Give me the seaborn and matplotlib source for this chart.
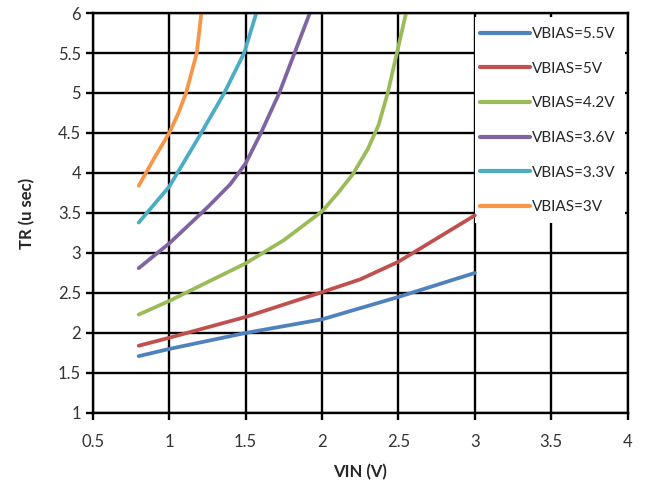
import pandas as pd
import numpy as np
import matplotlib
matplotlib.use("Agg")
import matplotlib.pyplot as plt
import seaborn as sns
from matplotlib.patches import Rectangle

# ==================================================
# DATA
# ==================================================

labels = ["VBIAS=5.5V", "VBIAS=5V", "VBIAS=4.2V", "VBIAS=3.6V", "VBIAS=3.3V", "VBIAS=3V"]
colors = ["#4F81BD", "#C0504D", "#9BBB59", "#8064A2", "#4BACC6", "#F79646"]

vin_55 = [0.8, 1.0, 1.5, 2.0, 2.5, 3.0]
tr_55 = [1.71, 1.80, 2.00, 2.17, 2.45, 2.75]

vin_5 = [0.8, 1.0, 1.5, 2.0, 2.25, 2.5, 3.0]
tr_5 = [1.84, 1.94, 2.20, 2.51, 2.67, 2.89, 3.47]

vin_42 = [0.8, 1.0, 1.5, 1.75, 2.0, 2.1, 2.2, 2.3, 2.37, 2.43, 2.49, 2.55]
tr_42 = [2.23, 2.40, 2.87, 3.16, 3.52, 3.74, 3.98, 4.3, 4.6, 5.0, 5.5, 6.0]

vin_36 = [0.8, 1.0, 1.25, 1.4, 1.5, 1.6, 1.72, 1.82, 1.92]
tr_36 = [2.81, 3.12, 3.57, 3.86, 4.12, 4.5, 5.0, 5.5, 6.0]

vin_33 = [0.8, 1.0, 1.1, 1.2, 1.36, 1.49, 1.57]
tr_33 = [3.38, 3.83, 4.15, 4.47, 5.0, 5.5, 6.0]

vin_3 = [0.8, 0.9, 1.0, 1.06, 1.11, 1.18, 1.21]
tr_3 = [3.84, 4.18, 4.5, 4.75, 5.0, 5.5, 6.0]

x_ticks = [0.5, 1, 1.5, 2, 2.5, 3, 3.5, 4]
x_tick_labels = ["0.5", "1", "1.5", "2", "2.5", "3", "3.5", "4"]
y_ticks = [1, 1.5, 2, 2.5, 3, 3.5, 4, 4.5, 5, 5.5, 6]
y_tick_labels = ["1", "1.5", "2", "2.5", "3", "3.5", "4", "4.5", "5", "5.5", "6"]

all_vin = [vin_55, vin_5, vin_42, vin_36, vin_33, vin_3]
all_tr = [tr_55, tr_5, tr_42, tr_36, tr_33, tr_3]

frames = []
for lab, xs, ys in zip(labels, all_vin, all_tr):
    frames.append(pd.DataFrame({"VIN": xs, "TR": ys, "series": lab}))
df = pd.concat(frames, ignore_index=True)

# ==================================================
# PLOT
# ==================================================

sns.set_style("white")
plt.rcParams["font.family"] = ["Lato", "DejaVu Sans"]

fig = plt.figure(figsize=(6.45, 4.91), dpi=100)
ax = fig.add_axes([0.144, 0.159, 0.829, 0.8145])

sns.lineplot(
    data=df, x="VIN", y="TR", hue="series",
    hue_order=labels, palette=colors,
    sort=False, estimator=None, linewidth=2.7, ax=ax,
)

ax.set_xlim(0.5, 4)
ax.set_ylim(1, 6)
ax.set_xticks(x_ticks)
ax.set_xticklabels(x_tick_labels)
ax.set_yticks(y_ticks)
ax.set_yticklabels(y_tick_labels)

ax.set_axisbelow(True)
ax.grid(True, color="black", linewidth=1.7)
for sp in ax.spines.values():
    sp.set_color("black")
    sp.set_linewidth(1.7)

ax.tick_params(axis="both", direction="out", length=5, width=1.7,
               color="black", labelsize=12, labelcolor="#333333",
               bottom=True, left=True)
ax.tick_params(axis="x", pad=10)

ax.set_xlabel("VIN (V)", fontsize=12, fontweight="bold", labelpad=10)
ax.set_ylabel("TR (u sec)", fontsize=12, fontweight="bold", labelpad=16)

# white box behind the legend, covering the grid
ax.add_patch(Rectangle((0.714, 0.475), 0.282, 0.515, transform=ax.transAxes,
                       facecolor="white", edgecolor="none", zorder=1))

handles, labs = ax.get_legend_handles_labels()
leg = ax.legend(
    handles, labs, loc="upper left", bbox_to_anchor=(0.712, 0.98),
    frameon=False, fontsize=11, handlelength=3.3, handletextpad=0.15,
    labelspacing=1.35, borderaxespad=0, borderpad=0.4,
)
for line in leg.get_lines():
    line.set_linewidth(3)

fig.savefig("out.png", dpi=100)
